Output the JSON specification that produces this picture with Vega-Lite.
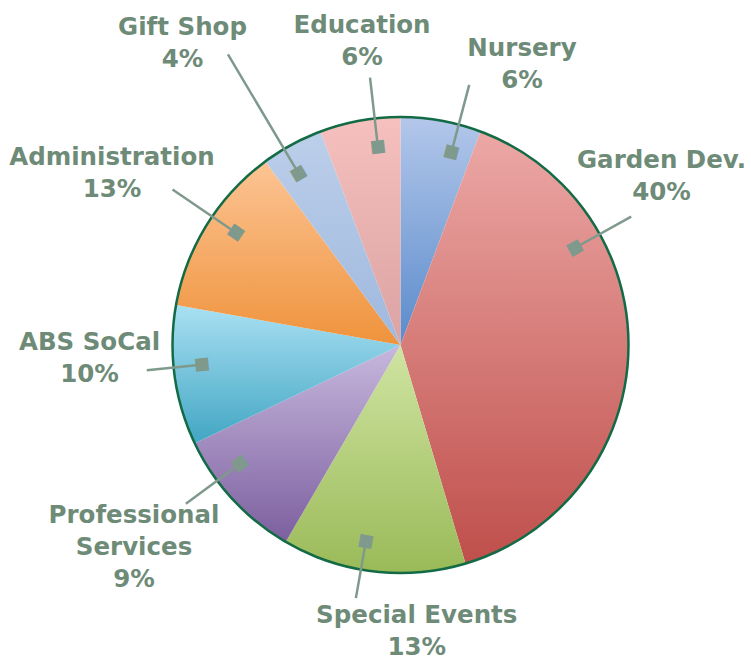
{
  "$schema": "https://vega.github.io/schema/vega-lite/v6.json",
  "width": 699,
  "height": 630,
  "autosize": {"type": "none"},
  "padding": {"left": 51, "top": 30, "right": 1, "bottom": 0},
  "background": "white",
  "config": {"view": {"stroke": null}},
  "data": {
    "values": [
      {"category": "Nursery", "value": 5.7, "label": "Nursery\n6%"},
      {"category": "Garden Dev.", "value": 39.7, "label": "Garden Dev.\n40%"},
      {"category": "Special Events", "value": 13.0, "label": "Special Events\n13%"},
      {"category": "Professional Services", "value": 9.5, "label": "Professional\nServices\n9%"},
      {"category": "ABS SoCal", "value": 9.9, "label": "ABS SoCal\n10%"},
      {"category": "Administration", "value": 12.1, "label": "Administration\n13%"},
      {"category": "Gift Shop", "value": 4.4, "label": "Gift Shop\n4%"},
      {"category": "Education", "value": 5.7, "label": "Education\n6%"}
    ]
  },
  "transform": [{"stack": "value", "groupby": [], "as": ["v0", "v1"]}],
  "layer": [
    {
      "mark": {"type": "arc", "outerRadius": 228, "strokeWidth": 0},
      "encoding": {
        "theta": {"field": "v0", "type": "quantitative", "stack": null,
          "scale": {"type": "linear", "domain": [0, 100], "range": [0, 6.283185307179586], "zero": false, "nice": false}},
        "theta2": {"field": "v1"},
        "fill": {
          "condition": [
            {"test": "datum.category === 'Nursery'", "value": {"gradient": "linear", "x1": 0, "y1": 0, "x2": 0, "y2": 1, "stops": [{"offset": 0, "color": "#b3c7ea"}, {"offset": 1, "color": "#5a8bcb"}]}},
            {"test": "datum.category === 'Garden Dev.'", "value": {"gradient": "linear", "x1": 0, "y1": 0, "x2": 0, "y2": 1, "stops": [{"offset": 0, "color": "#eca8a6"}, {"offset": 1, "color": "#bf4f4b"}]}},
            {"test": "datum.category === 'Special Events'", "value": {"gradient": "linear", "x1": 0, "y1": 0, "x2": 0, "y2": 1, "stops": [{"offset": 0, "color": "#cfe4a2"}, {"offset": 1, "color": "#9aba58"}]}},
            {"test": "datum.category === 'Professional Services'", "value": {"gradient": "linear", "x1": 0, "y1": 0, "x2": 0, "y2": 1, "stops": [{"offset": 0, "color": "#c7b8dd"}, {"offset": 1, "color": "#7c5f9f"}]}},
            {"test": "datum.category === 'ABS SoCal'", "value": {"gradient": "linear", "x1": 0, "y1": 0, "x2": 0, "y2": 1, "stops": [{"offset": 0, "color": "#a9e0f3"}, {"offset": 1, "color": "#42a6c3"}]}},
            {"test": "datum.category === 'Administration'", "value": {"gradient": "linear", "x1": 0, "y1": 0, "x2": 0, "y2": 1, "stops": [{"offset": 0, "color": "#fcc494"}, {"offset": 1, "color": "#ef933c"}]}},
            {"test": "datum.category === 'Gift Shop'", "value": {"gradient": "linear", "x1": 0, "y1": 0, "x2": 0, "y2": 1, "stops": [{"offset": 0, "color": "#bccfea"}, {"offset": 1, "color": "#9fb8de"}]}},
            {"test": "datum.category === 'Education'", "value": {"gradient": "linear", "x1": 0, "y1": 0, "x2": 0, "y2": 1, "stops": [{"offset": 0, "color": "#f5c0be"}, {"offset": 1, "color": "#dba3a3"}]}}
          ],
          "value": "#cccccc"
        }
      }
    },
    {
      "mark": {"type": "arc", "outerRadius": 228, "filled": false, "color": "#136b46", "strokeWidth": 2.5},
      "encoding": {
        "theta": {"aggregate": "sum", "field": "value", "type": "quantitative"}
      }
    },
    {
      "mark": {"type": "arc", "radius2": 200, "filled": false, "color": "#7f9a8c", "strokeWidth": 2.5},
      "encoding": {
        "theta": {"field": "v1", "type": "quantitative", "stack": null,
          "scale": {"type": "linear", "zero": false, "nice": false,
            "domain": [5.7, 45.4, 58.4, 67.9, 77.8, 89.9, 94.3, 100],
            "range": [0.2583, 1.0629, 3.3161, 4.0753, 4.6129, 5.3110, 5.7474, 6.1697]}},
        "theta2": {"field": "v1"},
        "radius": {"field": "v1", "type": "quantitative",
          "scale": {"type": "linear", "zero": false, "nice": false,
            "domain": [5.7, 45.4, 58.4, 67.9, 77.8, 89.9, 94.3, 100],
            "range": [269, 264, 257, 267, 255, 276, 338, 269]}}
      }
    },
    {
      "mark": {"type": "text", "text": "■", "radius": 200, "font": "DejaVu Sans", "fontSize": 17, "color": "#7f9a8c", "align": "center", "baseline": "middle"},
      "encoding": {
        "theta": {"field": "v1", "type": "quantitative", "stack": null,
          "scale": {"type": "linear", "zero": false, "nice": false,
            "domain": [5.7, 45.4, 58.4, 67.9, 77.8, 89.9, 94.3, 100],
            "range": [0.2583, 1.0629, 3.3161, 4.0753, 4.6129, 5.3110, 5.7474, 6.1697]}},
        "angle": {"field": "v1", "type": "quantitative",
          "scale": {"type": "linear", "zero": false, "nice": false,
            "domain": [5.7, 45.4, 58.4, 67.9, 77.8, 89.9, 94.3, 100],
            "range": [14.8, 60.9, 190.0, 233.5, 264.3, 304.3, 329.3, 353.5]}}
      }
    },
    {
      "mark": {"type": "text", "font": "DejaVu Sans", "fontWeight": "bold", "fontSize": 24.5, "color": "#6e8b78", "lineBreak": "\n", "lineHeight": 32, "align": "center", "baseline": "middle"},
      "encoding": {
        "theta": {"field": "v1", "type": "quantitative", "stack": null,
          "scale": {"type": "linear", "zero": false, "nice": false,
            "domain": [5.7, 45.4, 58.4, 67.9, 77.8, 89.9, 94.3, 100],
            "range": [0.3897, 0.9563, 3.0816, 4.1406, 4.7204, 5.2869, 5.6816, 6.1631]}},
        "radius": {"field": "v1", "type": "quantitative",
          "scale": {"type": "linear", "zero": false, "nice": false,
            "domain": [5.7, 45.4, 58.4, 67.9, 77.8, 89.9, 94.3, 100],
            "range": [319.8, 319.5, 271.0, 316.9, 311.0, 343.7, 385.1, 321.5]}},
        "text": {"field": "label"}
      }
    }
  ],
  "resolve": {"scale": {"theta": "independent", "radius": "independent", "angle": "independent"}}
}
